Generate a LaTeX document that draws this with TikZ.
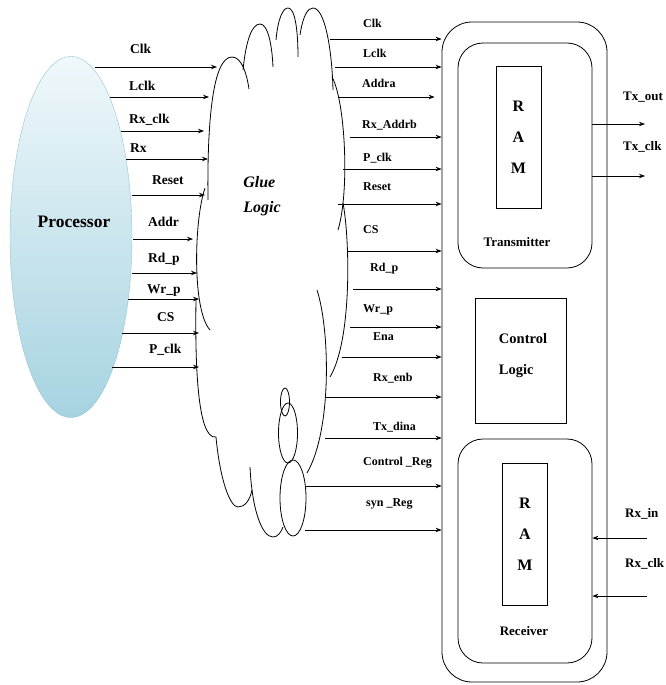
\documentclass[tikz,border=0pt]{standalone}
\usepackage{fontspec}
\setmainfont{Liberation Serif}
\usetikzlibrary{arrows.meta,positioning,calc,shapes.geometric}
\definecolor{ProcTop}{HTML}{F0F8FB}
\definecolor{ProcBottom}{HTML}{A6D3E1}
\definecolor{ProcEdge}{HTML}{95C3D1}

\begin{document}
\begin{tikzpicture}[x=1pt,y=-1pt,
    arr/.style={-{Stealth[length=6pt,width=4.5pt]},line width=0.8pt},
    sig/.style={font=\fontsize{13.5}{15}\selectfont\bfseries,anchor=base west,inner sep=0pt},
    sigr/.style={sig,font=\fontsize{12}{14}\selectfont\bfseries},
    sigo/.style={sig,font=\fontsize{13}{15}\selectfont\bfseries},
    blk/.style={draw,line width=0.8pt,inner sep=0pt},
    ram/.style={blk,minimum width=45pt,minimum height=142pt,align=center,font=\fontsize{16}{31}\selectfont\bfseries},
    title/.style={font=\fontsize{13}{15}\selectfont\bfseries,inner sep=0pt}
  ]
  \useasboundingbox (0,0) rectangle (666,685);
  % processor
  \node[ellipse,draw=ProcEdge,top color=ProcTop,bottom color=ProcBottom,minimum width=122pt,minimum height=361pt,inner sep=0pt] (proc) at (71,237) {};
  \node[font=\fontsize{17.5}{20}\selectfont\bfseries] (proctext) at (74,222) {Processor};
  % glue logic cloud
  \begin{scope}[line width=0.8pt]
    \draw (208,200) .. controls (207,120) and (213,57) .. (232,57) .. controls (242,57) and (247,75) .. (249,89);
    \draw (243,70) .. controls (246,40) and (252,24) .. (260,24) .. controls (268,24) and (272,45) .. (273,67);
    \draw (276,40) .. controls (278,18) and (283,8) .. (288,8) .. controls (295,8) and (298,30) .. (298,57);
    \draw (300,35) .. controls (303,15) and (308,8) .. (313,8) .. controls (325,8) and (332,50) .. (333,90);
    \draw (332,77) .. controls (345,100) and (350,190) .. (338,230);
    \draw (343,203) .. controls (350,240) and (352,340) .. (330,377);
    \draw (317,290) .. controls (330,330) and (332,430) .. (307,473);
    \draw (250,467) .. controls (252,510) and (262,537) .. (273,537) .. controls (278,537) and (281,532) .. (283,527);
    \draw (216,437) .. controls (220,480) and (230,507) .. (238,507) .. controls (245,507) and (250,500) .. (252,490);
    \draw (205,188) .. controls (194,220) and (192,310) .. (210,330);
    \draw (196,300) .. controls (195,360) and (197,440) .. (216,437);
    \draw (293,498) ellipse [x radius=13, y radius=38];
    \draw (288,433) ellipse [x radius=9.5, y radius=30];
    \draw (285,402) ellipse [x radius=4.5, y radius=14];
  \end{scope}
  \node[font=\fontsize{16}{25}\selectfont\bfseries\itshape,align=left] (glue) at (262,196) {Glue\\Logic};
  % system blocks
  \node[blk,rounded corners=30pt,minimum width=165pt,minimum height=660pt] (sys) at (524.5,352) {};
  \node[blk,rounded corners=25pt,minimum width=134pt,minimum height=225pt] (tx) at (525,155.5) {};
  \node[ram] (ramt) at (518.5,137) {R\\A\\M};
  \node[title] (txname) at (517,242) {Transmitter};
  \node[blk,minimum width=91pt,minimum height=125pt] (ctrl) at (520.5,360.5) {};
  \node[title,align=left,font=\fontsize{14.5}{31}\selectfont\bfseries] (ctrltext) at (523,356) {Control\\Logic};
  \node[blk,rounded corners=25pt,minimum width=134pt,minimum height=224pt] (rx) at (525,551) {};
  \node[ram] (ramb) at (525,534) {R\\A\\M};
  \node[title] (rxname) at (524,631) {Receiver};
  % processor -> glue logic
  \foreach \y/\xs/\xe/\sname/\lx/\ly [count=\i] in {67/95/217/Clk/130/53, 97/110/209/Lclk/129/90,
      131/121/204/Rx\_clk/129/123, 159/126/208/Rx/130/152, 195/132/205/Reset/152/184,
      239/133/193/Addr/148/226, 273/132/197/Rd\_p/148/262, 299/128/199/Wr\_p/147/293,
      333/122/199/CS/157/321, 367/112/199/P\_clk/149/353}
  {
    \coordinate (pin\i) at (\xs,\y);
    \coordinate (gin\i) at (\xe,\y);
    \draw[arr] (pin\i) -- (gin\i);
    \node[sig] (plab\i) at (\lx,\ly) {\sname};
  }
  % glue logic -> system
  \foreach \y/\xs/\sh/\sname/\lx/\ly [count=\i] in {39/330/0/Clk/363/28, 67/335/0/Lclk/363/58,
      97/338/7/Addra/362/88, 137/350/0/Rx\_Addrb/362/128, 169/343/0/P\_clk/363/161,
      204/338/0/Reset/363/190, 251/348/0/CS/363/233, 289/353/0/Rd\_p/370/271,
      327/350/0/Wr\_p/363/312, 357/342/0/Ena/373/340, 397/325/0/Rx\_enb/373/381,
      438/325/0/Tx\_dina/373/430, 486/305/0/Control \_Reg/363/465, 530/305/0/syn \_Reg/366/506}
  {
    \coordinate (gout\i) at (\xs,\y);
    \draw[arr,shorten >=\sh pt] (gout\i) -- (gout\i -| sys.west);
    \node[sigr] (glab\i) at (\lx,\ly) {\sname};
  }
  % outputs and inputs
  \coordinate (txout) at (645,124);
  \coordinate (txclk) at (645,176);
  \coordinate (rxin) at (647,538);
  \coordinate (rxclk) at (647,596);
  \draw[arr] (tx.east |- txout) -- (txout);
  \draw[arr] (tx.east |- txclk) -- (txclk);
  \draw[arr] (rxin) -- (rxin -| rx.east);
  \draw[arr] (rxclk) -- (rxclk -| rx.east);
  \node[sigo] (txoutlab) at (623,100) {Tx\_out};
  \node[sigo] (txclklab) at (623,150) {Tx\_clk};
  \node[sigo] (rxinlab) at (625,517) {Rx\_in};
  \node[sigo] (rxclklab) at (625,567) {Rx\_clk};
\end{tikzpicture}
\end{document}
